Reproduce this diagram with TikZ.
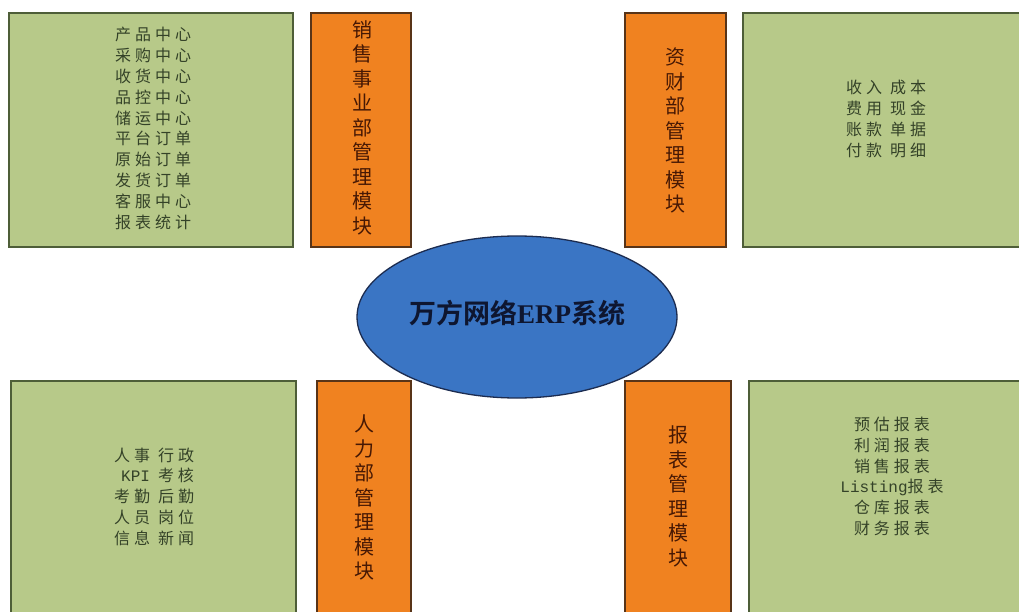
\documentclass[tikz,border=0pt]{standalone}
\usepackage{fontspec}
\setmainfont{Noto Sans CJK SC}
\newfontfamily\cjkls[LetterSpace=25]{Noto Sans CJK SC}
\newfontfamily\cjkbold{Noto Sans CJK SC Bold}
\newfontfamily\serifb{Liberation Serif}
\newfontfamily\monof{Liberation Mono}
\usetikzlibrary{shapes.geometric}
\definecolor{gfill}{RGB}{183,201,137}
\definecolor{gdraw}{RGB}{78,94,56}
\definecolor{gtext}{RGB}{52,66,40}
\definecolor{ofill}{RGB}{240,130,32}
\definecolor{odraw}{RGB}{88,52,24}
\definecolor{otext}{RGB}{70,24,4}
\definecolor{bfill}{RGB}{58,117,196}
\definecolor{bdraw}{RGB}{28,44,80}
\definecolor{btext}{RGB}{14,22,48}
\tikzset{
  greenbox/.style={draw=gdraw, fill=gfill, line width=1.3pt, rectangle, inner sep=0pt},
  orangebox/.style={draw=odraw, fill=ofill, line width=1.3pt, rectangle, inner sep=0pt},
  listtext/.style={text=gtext, align=center, inner sep=0pt, font=\fontsize{16}{20.8}\selectfont\cjkls},
  vtext/.style={text=otext, align=center, inner sep=0pt, font=\fontsize{20}{24.5}\selectfont},
}
\begin{document}
\begin{tikzpicture}[x=1pt,y=-1pt]
\clip (0,0) rectangle (1019,612);
\fill[white] (0,0) rectangle (1019,612);
% boxes
\node[greenbox, minimum width=284pt, minimum height=234pt] (g1) at (151,130) {};
\node[orangebox, minimum width=100pt, minimum height=234pt] (o1) at (361,130) {};
\node[orangebox, minimum width=101pt, minimum height=234pt] (o2) at (675.5,130) {};
\node[greenbox, minimum width=290pt, minimum height=234pt] (g2) at (888,130) {};
\node[greenbox, minimum width=285pt, minimum height=250pt] (g3) at (153.5,506) {};
\node[orangebox, minimum width=94pt, minimum height=250pt] (o3) at (364,506) {};
\node[orangebox, minimum width=106pt, minimum height=250pt] (o4) at (678,506) {};
\node[greenbox, minimum width=290pt, minimum height=250pt] (g4) at (894,506) {};
% ellipse
\node[ellipse, draw=bdraw, fill=bfill, line width=1.3pt, minimum width=320pt, minimum height=162pt, inner sep=0pt] (sys) at (517,317) {};
\node[text=btext, inner sep=0pt, font=\fontsize{27}{30}\selectfont\cjkbold] (title) at (517,313) {万方网络{\serifb\bfseries ERP}系统};
% texts
\node[listtext] (t1) at (153,128.5) {产品中心\\采购中心\\收货中心\\品控中心\\储运中心\\平台订单\\原始订单\\发货订单\\客服中心\\报表统计};
\node[vtext] (v1) at (362,127.5) {销\\售\\事\\业\\部\\管\\理\\模\\块};
\node[vtext] (v2) at (675.5,130.5) {资\\财\\部\\管\\理\\模\\块};
\node[listtext] (t2) at (886,119) {收入\hspace{8pt}成本\\费用\hspace{8pt}现金\\账款\hspace{8pt}单据\\付款\hspace{8pt}明细};
\node[text=gtext, inner sep=0pt, font=\fontsize{16}{20.8}\selectfont\cjkls] (t3) at (154,498.5) {%
  \def\arraystretch{1}\setlength{\tabcolsep}{0pt}%
  \begin{tabular}{r@{\hspace{8pt}}l}
  人事 & 行政\\
  {\monof KPI} & 考核\\
  考勤 & 后勤\\
  人员 & 岗位\\
  信息 & 新闻
  \end{tabular}};
\node[vtext] (v3) at (364,497.5) {人\\力\\部\\管\\理\\模\\块};
\node[vtext] (v4) at (678,496.5) {报\\表\\管\\理\\模\\块};
\node[listtext] (t4) at (892,476.5) {预估报表\\利润报表\\销售报表\\{\monof Listing}报表\\仓库报表\\财务报表};
\end{tikzpicture}
\end{document}
